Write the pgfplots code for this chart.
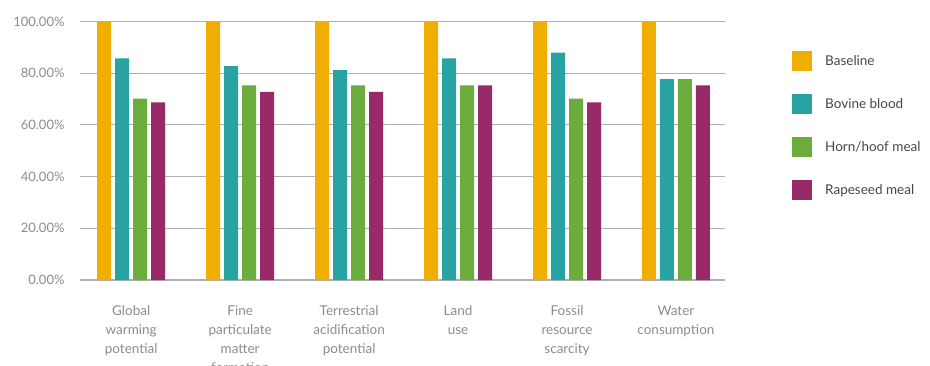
\documentclass[border=0pt]{standalone}
\usepackage{pgfplots}
\pgfplotsset{compat=1.18}
\usepackage{fontspec}
\setmainfont{Lato}

\definecolor{cBase}{RGB}{240,175,0}
\definecolor{cBlood}{RGB}{40,163,163}
\definecolor{cHorn}{RGB}{108,172,60}
\definecolor{cRape}{RGB}{152,42,104}
\definecolor{cGrid}{RGB}{175,175,175}
\definecolor{cTick}{RGB}{140,140,140}
\definecolor{cLeg}{RGB}{70,70,70}

\begin{document}
\begin{tikzpicture}[x=1pt,y=1pt]
\path[use as bounding box] (0,0) rectangle (930,365);
\begin{axis}[
  at={(80pt,85pt)}, anchor=south west,
  scale only axis,
  width=645pt, height=258.5pt,
  ybar=4pt, bar width=14pt,
  xmin=-0.47, xmax=5.45,
  ymin=0, ymax=100,
  xtick={0,1,2,3,4,5},
  xticklabels={{Global\\warming\\potential},
               {Fine\\particulate\\matter\\formation},
               {Terrestrial\\acidification\\potential},
               {Land\\use},
               {Fossil\\resource\\scarcity},
               {Water\\consumption}},
  ytick={0,20,40,60,80,100},
  yticklabels={0.00\%,20.00\%,40.00\%,60.00\%,80.00\%,100.00\%},
  axis line style={draw=none},
  major tick length=0pt,
  ymajorgrids,
  major grid style={cGrid, line width=1.1pt},
  yticklabel style={font=\fontsize{13}{15}\selectfont, text=cTick, xshift=-12pt},
  xticklabel style={font=\fontsize{13.5}{19}\selectfont, text=cTick, align=center, yshift=-22pt},
  legend style={at={(1,1)}, anchor=north west, xshift=67pt, yshift=-29.5pt,
    draw=none, fill=none, inner sep=0pt, row sep=23pt,
    font=\fontsize{13.5}{15}\selectfont, text=cLeg,
    nodes={inner sep=0pt, anchor=west}},
  legend cell align=left,
  legend image code/.code={\fill[#1] (0pt,-10pt) rectangle (20pt,10pt);
                           \path (33pt,0pt);},
]
\addplot[draw=none, fill=cBase]  coordinates {(0,100) (1,100) (2,100) (3,100) (4,100) (5,100)};
\addplot[draw=none, fill=cBlood] coordinates {(0,85.7) (1,82.7) (2,81.2) (3,85.7) (4,88.0) (5,77.7)};
\addplot[draw=none, fill=cHorn]  coordinates {(0,70.2) (1,75.3) (2,75.3) (3,75.3) (4,70.2) (5,77.7)};
\addplot[draw=none, fill=cRape]  coordinates {(0,68.7) (1,72.8) (2,72.8) (3,75.3) (4,68.7) (5,75.3)};
\legend{Baseline, Bovine blood, Horn/hoof meal, Rapeseed meal}
\end{axis}
\end{tikzpicture}
\end{document}
